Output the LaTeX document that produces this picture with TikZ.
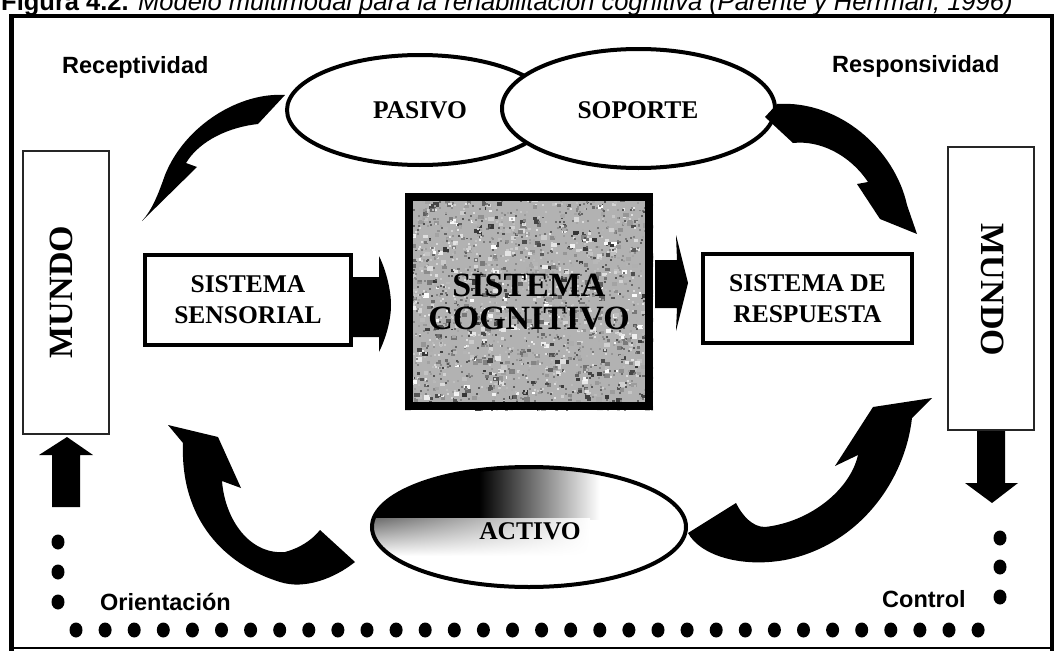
\documentclass[tikz,border=0pt]{standalone}
\usepackage{fontspec}
\setmainfont{Liberation Serif}
\setsansfont{Liberation Sans}
\usetikzlibrary{shapes.geometric,shadings}
\begin{document}
\begin{tikzpicture}[x=1pt,y=-1pt,
  lbl/.style={font=\sffamily\bfseries\fontsize{23.5}{28}\selectfont, inner sep=0pt, anchor=base west},
  boxtxt/.style={font=\bfseries\fontsize{25.5}{31}\selectfont, align=center},
  elltxt/.style={font=\bfseries\fontsize{25.5}{31}\selectfont, inner sep=0pt, text height=17pt, text depth=0pt},
  sbox/.style={draw, line width=4pt, fill=white, boxtxt, inner sep=0pt},
  mundo/.style={draw=black!85, line width=1.6pt, fill=white, inner sep=0pt},
  mundotxt/.style={font=\bfseries\fontsize{34}{34}\selectfont, inner sep=0pt},
  ell/.style={ellipse, draw, line width=4pt, fill=white, inner sep=0pt},
  blk/.style={fill=black},
  dotm/.style={fill=black}]
\useasboundingbox (0,0) rectangle (1061,653);

% caption (cut at top, as in the reference)
\node[anchor=base west, inner sep=0pt, font=\sffamily\fontsize{25.5}{26}\selectfont] (cap) at (1,10)
  {\textbf{Figura 4.2.} \textit{Modelo multimodal para la rehabilitación cognitiva (Parente y Herrman, 1996)}};

% frame
\draw[line width=4pt] (9,16) -- (1054,16);
\draw[line width=5pt] (11,14) -- (11,651);
\draw[line width=4pt] (1052,14) -- (1052,651);
\draw[line width=2.5pt] (11,648) -- (1052,648);

% labels
\node[lbl] (rec) at (62,73) {Receptividad};
\node[lbl] (res) at (832,72) {Responsividad};
\node[lbl] (ori) at (100,610) {Orientación};
\node[lbl] (con) at (882,607) {Control};

% MUNDO boxes
\node[mundo, minimum width=86pt, minimum height=283pt] (mundoL) at (66,292.5) {};
\node[mundotxt, rotate=90] (mundoLt) at (61,292) {MUNDO};
\node[mundo, minimum width=86pt, minimum height=283pt] (mundoR) at (991,288.5) {};
\node[mundotxt, rotate=-90] (mundoRt) at (993,290) {MUNDO};

% up / down arrows
\fill[blk] (52,507) -- (52,455) -- (39,455) -- (67,437) -- (93,455) -- (80,455) -- (80,507) -- cycle;
\fill[blk] (977,431) -- (977,483) -- (965,483) -- (992,503) -- (1018,483) -- (1005,483) -- (1005,431) -- cycle;

% sensorial and respuesta boxes
\node[sbox, minimum width=206pt, minimum height=90pt] (sens) at (248,300) {SISTEMA\\SENSORIAL};
\node[sbox, minimum width=209pt, minimum height=89pt] (resp) at (807.5,298.5) {SISTEMA DE\\RESPUESTA};

% cognitive box with stone-like texture
\begin{scope}
  \clip (405,193) rectangle (653,410);
  \fill[black!30] (405,193) rectangle (653,410);
  \pgfmathsetseed{11}
  \foreach \i in {1,...,900}{
    \pgfmathsetmacro{\px}{405+248*rnd}
    \pgfmathsetmacro{\py}{193+217*rnd}
    \pgfmathsetmacro{\sz}{2+4*rnd}
    \pgfmathtruncatemacro{\sh}{int(80*rnd)}
    \fill[black!\sh] (\px,\py) rectangle ++(\sz,\sz*0.8);
  }
  \foreach \i in {1,...,1400}{
    \pgfmathsetmacro{\px}{405+248*rnd}
    \pgfmathsetmacro{\py}{193+217*rnd}
    \pgfmathtruncatemacro{\sh}{int(10+60*rnd)}
    \fill[black!\sh] (\px,\py) rectangle ++(2,2);
  }
\end{scope}
\node[draw, line width=8pt, minimum width=240pt, minimum height=209pt, inner sep=0pt,
  font=\bfseries\fontsize{34}{33}\selectfont, align=center] (cog) at (529,301.5) {SISTEMA\\COGNITIVO};

% block arrows between boxes
\fill[blk] (353,277) -- (379,277) -- (379,256) .. controls (386,270) and (391,290) .. (391,305)
  .. controls (391,320) and (386,338) .. (379,352) -- (379,337) -- (353,337) -- cycle;
\fill[blk] (655,260) -- (677,260) -- (676,235) -- (688,283) -- (676,331) -- (677,308) -- (655,308) -- cycle;

% top ellipses
\node[ell, minimum width=266pt, minimum height=110pt] (pas) at (420,110) {};
\node[ell, minimum width=273pt, minimum height=119pt] (sop) at (638.5,108.5) {};
\node[elltxt] (past) at (420,110) {PASIVO};
\node[elltxt] (sopt) at (638,110) {SOPORTE};

% top curved arrows
\fill[blk] (285,95) .. controls (240,92) and (185,125) .. (165,175) .. controls (158,195) and (152,210) .. (142,221)
  -- (197,167) -- (186,163) .. controls (200,140) and (230,127) .. (258,124) -- cycle;
\fill[blk] (777,104) .. controls (840,100) and (895,150) .. (907,205) -- (917,234) -- (880,219) -- (857,184)
  -- (868,182) .. controls (850,155) and (820,140) .. (793,143) -- (765,117) -- cycle;

% bottom curved arrows
\fill[blk] (168,425) -- (218,437) -- (241,488) -- (222,481) .. controls (225,520) and (250,555) .. (285,552)
  .. controls (300,548) and (312,540) .. (320,530) -- (355,562) .. controls (335,578) and (305,590) .. (280,582)
  .. controls (225,565) and (180,520) .. (183,443) -- cycle;
\fill[blk] (932,398) -- (873,407) -- (835,466) -- (858,455) .. controls (850,490) and (810,522) .. (765,527)
  .. controls (752,527) and (742,515) .. (736,503) -- (688,533) .. controls (700,555) and (740,568) .. (785,560)
  .. controls (860,545) and (905,480) .. (912,418) -- cycle;

% ACTIVO ellipse with shading
\begin{scope}
  \clip (529,527) ellipse [x radius=157pt, y radius=60pt];
  \fill[white] (365,460) rectangle (695,595);
  \fill[black] (365,460) rectangle (480,519);
  \shade[left color=black, right color=white] (479,460) rectangle (600,519);
  \shade[upper left=black!60, upper right=white, lower left=white, lower right=white] (365,518) rectangle (590,556);
\end{scope}
\node[ellipse, draw, line width=4pt, inner sep=0pt, minimum width=314pt, minimum height=120pt] (act) at (529,527) {};
\node[elltxt] (actt) at (530,531) {ACTIVO};

% dots
\foreach \y in {542,572,602} \fill[dotm] (58,\y) ellipse [x radius=6.5pt, y radius=7.5pt];
\foreach \y in {538,567,597} \fill[dotm] (1000,\y) ellipse [x radius=6.5pt, y radius=7.5pt];
\foreach \i in {0,...,31} \fill[dotm] ({76+\i*29.1},630) ellipse [x radius=6.5pt, y radius=7.5pt];
\end{tikzpicture}
\end{document}
